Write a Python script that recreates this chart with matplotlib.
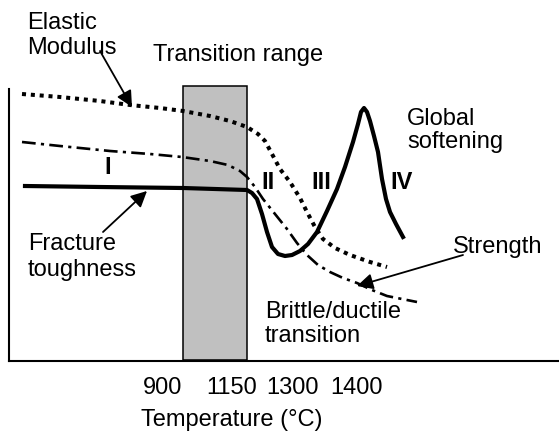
import matplotlib
matplotlib.use("Agg")
import matplotlib.pyplot as plt
from matplotlib.patches import Rectangle

plt.rcParams["font.family"] = ["Liberation Sans", "DejaVu Sans"]

# Schematic property curves (horizontal position, level above the baseline)
modulus_x = [22, 60, 100, 130, 160, 183, 210, 230, 247, 258, 265, 272, 280, 290,
             300, 307, 315, 323, 335, 350, 370, 387]
modulus_y = [267, 264, 260, 256, 253, 250, 245, 240, 234, 227, 220, 207, 192, 179,
             163, 149, 134, 122, 113, 106, 99, 94]

strength_x = [22, 60, 110, 150, 182, 210, 228, 240, 247, 255, 263, 275, 287, 297,
              307, 318, 330, 343, 357, 372, 387, 402, 417]
strength_y = [219, 215, 210, 207, 204, 200, 196, 190, 184, 174, 162, 147, 132, 118,
              106, 96, 89, 83, 78, 71, 65, 62, 59]

toughness_x = [25, 100, 183, 247, 252, 257, 262, 267, 272, 278, 285, 292, 300, 308,
               317, 327, 337, 345, 353, 358, 361, 364, 367, 370, 374, 378, 382, 386,
               390, 396, 403]
toughness_y = [175, 174, 173, 171, 168, 162, 147, 129, 114, 107, 105, 106, 110, 117,
               129, 150, 172, 194, 219, 237, 249, 253, 249, 240, 225, 209, 182, 162,
               149, 137, 124]

# Transition range band
band_x = [183, 247]
band_top = 275

# Temperature labels along the bottom
temp_pos = [163, 232, 293, 356]
temp_labels = ["900", "1150", "1300", "1400"]

# Stage markers
stage_labels = ["I", "II", "III", "IV"]
stage_x = [108, 268, 321, 402]
stage_y = [194, 179, 179, 179]

FS = 17

fig = plt.figure(figsize=(5.59, 4.35), dpi=100)
ax = fig.add_axes([9 / 559, 73 / 435, 550 / 559, 362 / 435])
ax.set_xlim(9, 559)
ax.set_ylim(0, 362)

for side in ("top", "right"):
    ax.spines[side].set_visible(False)
ax.spines["left"].set_linewidth(1.5)
ax.spines["bottom"].set_linewidth(1.5)
ax.spines["left"].set_bounds(0, 272)
ax.set_yticks([])
ax.set_xticks(temp_pos)
ax.set_xticklabels(temp_labels, fontsize=FS)
ax.tick_params(axis="x", length=0, pad=10.5)
ax.set_xlabel("Temperature (°C)", fontsize=FS)
ax.xaxis.set_label_coords((231.5 - 9) / 550, -0.13)

ax.add_patch(Rectangle((band_x[0], 1), band_x[1] - band_x[0], band_top - 1,
                       facecolor="#c0c0c0", edgecolor="black", lw=1.1, zorder=1))

ax.plot(modulus_x, modulus_y, color="black", lw=2.9,
        linestyle=(0, (1, 1.2)), zorder=3)
ax.plot(strength_x, strength_y, color="black", lw=1.9,
        linestyle=(0, (5.2, 2, 1.2, 2)), zorder=3)
ax.plot(toughness_x, toughness_y, color="black", lw=3.0,
        solid_joinstyle="round", zorder=4)

for lab, x, y in zip(stage_labels, stage_x, stage_y):
    ax.text(x, y, lab, fontsize=FS, fontweight="bold", ha="center", va="center")

texts = [
    ("Elastic", 27, 333), ("Modulus", 27, 308),
    ("Transition range", 153, 301),
    ("Global", 407, 237), ("softening", 407, 214),
    ("Fracture", 28, 112), ("toughness", 28, 86),
    ("Strength", 453, 109),
    ("Brittle/ductile", 265, 44), ("transition", 265, 20),
]
for s, x, y in texts:
    ax.text(x, y, s, fontsize=FS, ha="left", va="baseline")

arrow_style = dict(arrowstyle="-|>,head_length=0.6,head_width=0.3",
                   mutation_scale=16, lw=1.3, color="black",
                   shrinkA=0, shrinkB=0)
ax.annotate("", xy=(132, 254), xytext=(100, 310), arrowprops=arrow_style)
ax.annotate("", xy=(147, 170), xytext=(103, 129), arrowprops=arrow_style)
ax.annotate("", xy=(357, 75), xytext=(463, 106), arrowprops=arrow_style)

fig.savefig("out.png", dpi=100)
